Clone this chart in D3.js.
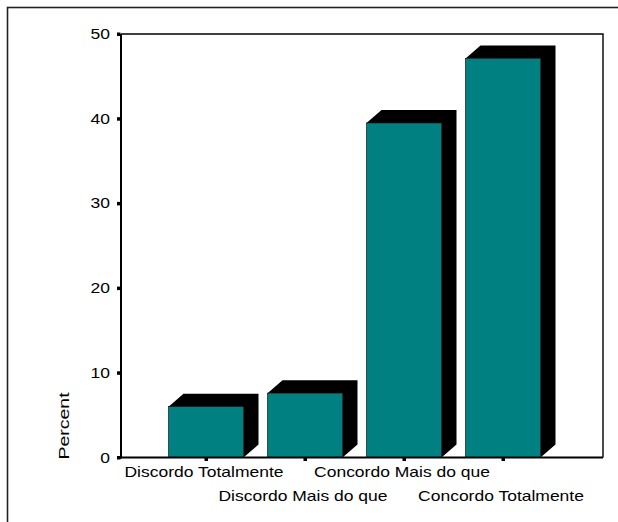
<!DOCTYPE html>
<html><head><meta charset="utf-8">
<script src="https://cdn.jsdelivr.net/npm/d3@7/dist/d3.min.js"></script>
<style>body{margin:0;background:#fff;}svg{display:block;}</style>
</head><body>
<svg id="c" width="618" height="522"></svg>
<script>
const categories = ["Discordo Totalmente","Discordo Mais do que","Concordo Mais do que","Concordo Totalmente"];
const values = [6.0, 7.6, 39.5, 47.1];
const yTicks = [0,10,20,30,40,50];
const labelRow = [0,1,0,1];

const svg = d3.select("#c");
const L=121, R=603, T=34, B=457.5;
const dx=15, dy=13;
const barW=75;
const SX=1.25;

// outer frame
svg.append("rect").attr("x",7.5).attr("y",7.5).attr("width",640).attr("height",560)
  .attr("fill","none").attr("stroke","#222").attr("stroke-width",1.6);

const y = d3.scaleLinear().domain([0,50]).range([B,T]);
const x = d3.scalePoint().domain(categories).range([206,503]);

// plot frame top & right
svg.append("path").attr("d",`M${L},${T}H${R}V${B}`).attr("fill","none").attr("stroke","#000").attr("stroke-width",1.4);

// bars
const g = svg.append("g");
categories.forEach((c,i)=>{
  const cx=x(c), x0=cx-barW/2, x1=cx+barW/2, yt=y(values[i]), yb=y(0);
  g.append("path").attr("d",`M${x0},${yt}L${x0+dx},${yt-dy}H${x1+dx}V${yb-dy}L${x1},${yb}V${yt}Z`)
    .attr("fill","#000");
  g.append("rect").attr("x",x0).attr("y",yt).attr("width",barW).attr("height",yb-yt)
    .attr("fill","#008080").attr("stroke","#000").attr("stroke-width",0.6);
});

// axes lines
svg.append("line").attr("x1",L).attr("x2",L).attr("y1",T).attr("y2",B+1).attr("stroke","#000").attr("stroke-width",2);
svg.append("line").attr("x1",L-1).attr("x2",R).attr("y1",B).attr("y2",B).attr("stroke","#000").attr("stroke-width",2);

const font = "'Liberation Sans', Arial, sans-serif";
// y ticks
yTicks.forEach(t=>{
  svg.append("rect").attr("x",L-4).attr("y",y(t)-1.5).attr("width",3.5).attr("height",3.5).attr("fill","#000");
  svg.append("text").attr("transform",`translate(110,${y(t)+5}) scale(${SX},1)`)
    .attr("text-anchor","end").attr("font-family",font).attr("font-size",14).attr("fill","#000").text(t);
});
// x ticks & labels
categories.forEach((c,i)=>{
  svg.append("rect").attr("x",x(c)-1.5).attr("y",B).attr("width",3.5).attr("height",3.5).attr("fill","#000");
  const ly = labelRow[i]===0 ? 477 : 500.5;
  svg.append("text").attr("transform",`translate(${x(c)-2},${ly}) scale(${SX},1)`)
    .attr("text-anchor","middle").attr("font-family",font).attr("font-size",14).attr("fill","#000").text(c);
});
// y axis title
svg.append("text").attr("transform","translate(69,426) rotate(-90) scale(1.3,1)")
  .attr("text-anchor","middle").attr("font-family",font).attr("font-size",15).attr("fill","#000").text("Percent");
</script>
</body></html>
